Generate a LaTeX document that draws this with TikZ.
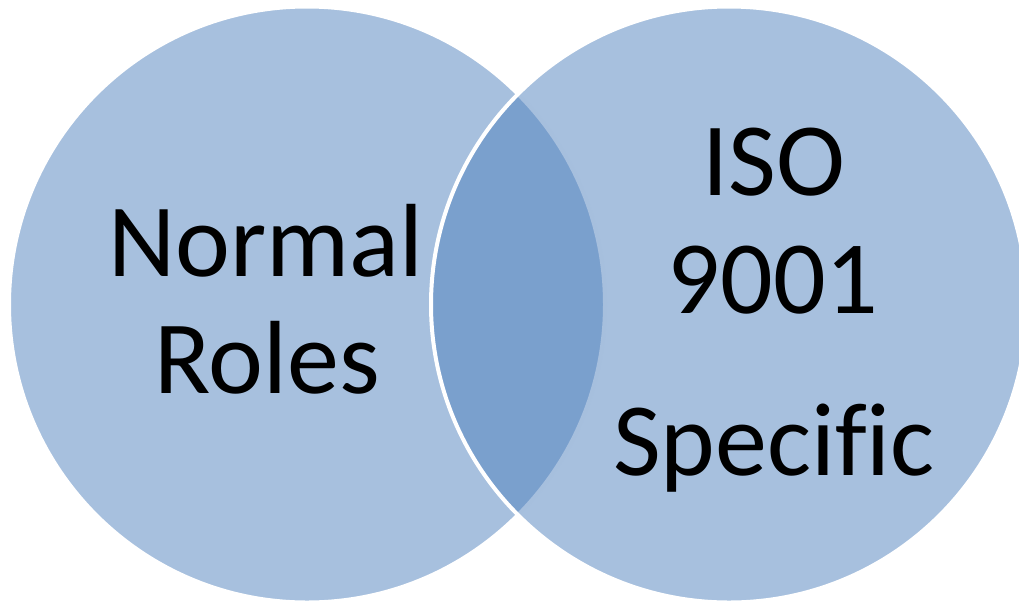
\documentclass[tikz,border=0pt]{standalone}
\usepackage{fontspec}
\setmainfont{Carlito}[Ligatures=NoCommon]
\usetikzlibrary{positioning}
\definecolor{accent}{HTML}{4F81BD}

\begin{document}
\begin{tikzpicture}[x=1pt,y=-1pt,
  venncircle/.style={fill=accent, fill opacity=0.5, draw=white, line width=4pt},
  venntext/.style={align=center, font=\fontsize{104}{117}\selectfont, inner sep=0pt}]
\useasboundingbox (0,0) rectangle (1019,606);

\coordinate (L) at (307,304.5);
\coordinate (R) at (729,304.5);

\path[venncircle] (L) circle[radius=298pt];
\path[venncircle] (R) circle[radius=298pt];

\node[venntext, anchor=base] (normal) at (266,276) {Normal};
\node[venntext, anchor=base] (roles) at (267,393) {Roles};

\node[venntext, anchor=base] (iso) at (774,195) {ISO};
\node[venntext, anchor=base] (nr) at (773,313) {9001};
\node[venntext, anchor=base] (spec) at (774,475) {Specific};
\end{tikzpicture}
\end{document}
